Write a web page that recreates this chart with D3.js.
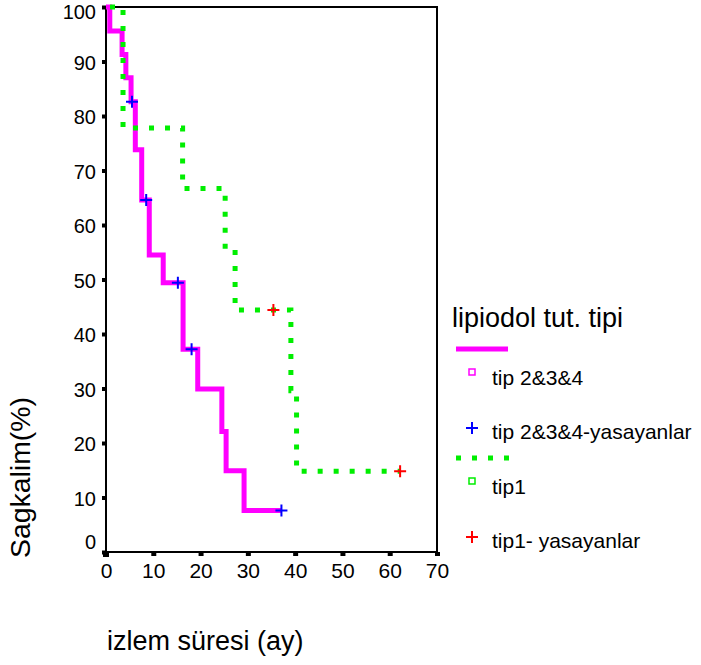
<!DOCTYPE html>
<html>
<head>
<meta charset="utf-8">
<script src="https://cdn.jsdelivr.net/npm/d3@7"></script>
<style>
  body { margin: 0; background: #fff; }
  svg text { font-family: "Liberation Sans", Arial, sans-serif; fill: #000; }
</style>
</head>
<body>
<svg id="chart" width="701" height="665"></svg>
<script>
// Kaplan-Meier steps
const tip234Time = [0, 0.8, 3.4, 4.2, 5.3, 6.2, 7.55, 9.15, 12.1, 16.3, 19.4, 24.5, 25.4, 29.2, 37.1];
const tip234Surv = [100, 95.6, 91.3, 87.0, 82.6, 73.8, 64.6, 54.5, 49.4, 37.2, 29.9, 22.1, 14.9, 7.6, 7.6];
const tip234CensTime = [5.5, 8.5, 15.2, 18.1, 37.1];
const tip234CensSurv = [82.6, 64.6, 49.4, 37.2, 7.6];

const tip1Time = [0, 3.6, 16.2, 25.2, 27.3, 39.1, 40.3, 62.2];
const tip1Surv = [100, 77.8, 66.7, 55.6, 44.4, 29.6, 14.8, 14.8];
const tip1CensTime = [35.4, 62.2];
const tip1CensSurv = [44.4, 14.8];

const xTicks = [0, 10, 20, 30, 40, 50, 60, 70];
const yTicks = [0, 10, 20, 30, 40, 50, 60, 70, 80, 90, 100];

const legendTitle = "lipiodol tut. tipi";
const legendLabels = ["tip 2&3&4", "tip 2&3&4-yasayanlar", "tip1", "tip1- yasayanlar"];

const svg = d3.select("#chart");
const x = d3.scaleLinear().domain([0, 70]).range([106, 437]);
const y = d3.scaleLinear().domain([0, 100]).range([552, 7]);

const MAGENTA = "#ff00ff", GREEN = "#00ee00", BLUE = "#0000ff", RED = "#ff0000";

// frame
svg.append("rect")
  .attr("x", x(0)).attr("y", y(100))
  .attr("width", x(70) - x(0)).attr("height", y(0) - y(100))
  .attr("fill", "none").attr("stroke", "#000").attr("stroke-width", 2);

// axes
const yAxis = svg.append("g")
  .attr("transform", `translate(${x(0)},0)`)
  .call(d3.axisLeft(y).tickValues(yTicks).tickSize(4).tickPadding(6));
yAxis.select(".domain").remove();
yAxis.selectAll(".tick line").attr("stroke", "#000").attr("stroke-width", 4);
yAxis.selectAll(".tick text").attr("font-size", 20)
  .attr("dy", d => d === 0 ? "-0.17em" : d === 100 ? "0.58em" : "0.38em");

const xAxis = svg.append("g")
  .attr("transform", `translate(0,${y(0)})`)
  .call(d3.axisBottom(x).tickValues(xTicks).tickSize(4).tickPadding(7));
xAxis.select(".domain").remove();
xAxis.selectAll(".tick line").attr("stroke", "#000").attr("stroke-width", 5);
xAxis.selectAll(".tick text").attr("font-size", 21);

svg.append("rect").attr("x", x(0) - 3).attr("y", y(0) - 1).attr("width", 6).attr("height", 6).attr("fill", "#000");

// axis titles
svg.append("text")
  .attr("transform", `translate(30,${(397 + 558) / 2}) rotate(-90)`)
  .attr("text-anchor", "middle")
  .attr("font-size", 27)
  .attr("textLength", 161).attr("lengthAdjust", "spacingAndGlyphs")
  .text("Sagkalim(%)");

svg.append("text")
  .attr("x", 107).attr("y", 650)
  .attr("font-size", 27)
  .text("izlem süresi (ay)");

// curves
const step = d3.line().x(d => x(d[0])).y(d => y(d[1])).curve(d3.curveStepAfter);

svg.append("path")
  .datum(tip234Time.map((t, i) => [t, tip234Surv[i]]))
  .attr("d", step).attr("fill", "none")
  .attr("stroke", MAGENTA).attr("stroke-width", 5);

svg.append("path")
  .datum(tip1Time.map((t, i) => [t, tip1Surv[i]]))
  .attr("d", step).attr("fill", "none")
  .attr("stroke", GREEN).attr("stroke-width", 5)
  .attr("stroke-dasharray", "5,11").attr("stroke-dashoffset", -4);

function plus(g, cx, cy, color, r) {
  g.append("path")
    .attr("d", `M${cx - r},${cy}H${cx + r}M${cx},${cy - r}V${cy + r}`)
    .attr("stroke", color).attr("stroke-width", 2).attr("fill", "none");
}

tip234CensTime.forEach((t, i) => plus(svg, x(t), y(tip234CensSurv[i]), BLUE, 6));
tip1CensTime.forEach((t, i) => plus(svg, x(t), y(tip1CensSurv[i]), RED, 6));

// legend
const lg = svg.append("g");
lg.append("text").attr("x", 452).attr("y", 327).attr("font-size", 27).text(legendTitle);

lg.append("line").attr("x1", 456).attr("x2", 508).attr("y1", 349).attr("y2", 349)
  .attr("stroke", MAGENTA).attr("stroke-width", 5);
lg.append("rect").attr("x", 469).attr("y", 369).attr("width", 6).attr("height", 6)
  .attr("fill", "none").attr("stroke", MAGENTA).attr("stroke-width", 1.5);
plus(lg, 472, 428, BLUE, 6);
lg.append("line").attr("x1", 456).attr("x2", 510).attr("y1", 458).attr("y2", 458)
  .attr("stroke", GREEN).attr("stroke-width", 5).attr("stroke-dasharray", "5,11");
lg.append("rect").attr("x", 469).attr("y", 478).attr("width", 6).attr("height", 6)
  .attr("fill", "none").attr("stroke", GREEN).attr("stroke-width", 1.5);
plus(lg, 472, 537, RED, 6);

const labelY = [378, 432, 487, 541];
legendLabels.forEach((s, i) => {
  lg.append("text").attr("x", 492).attr("y", labelY[i]).attr("dy", "0.35em")
    .attr("font-size", 21).text(s);
});
</script>
</body>
</html>
